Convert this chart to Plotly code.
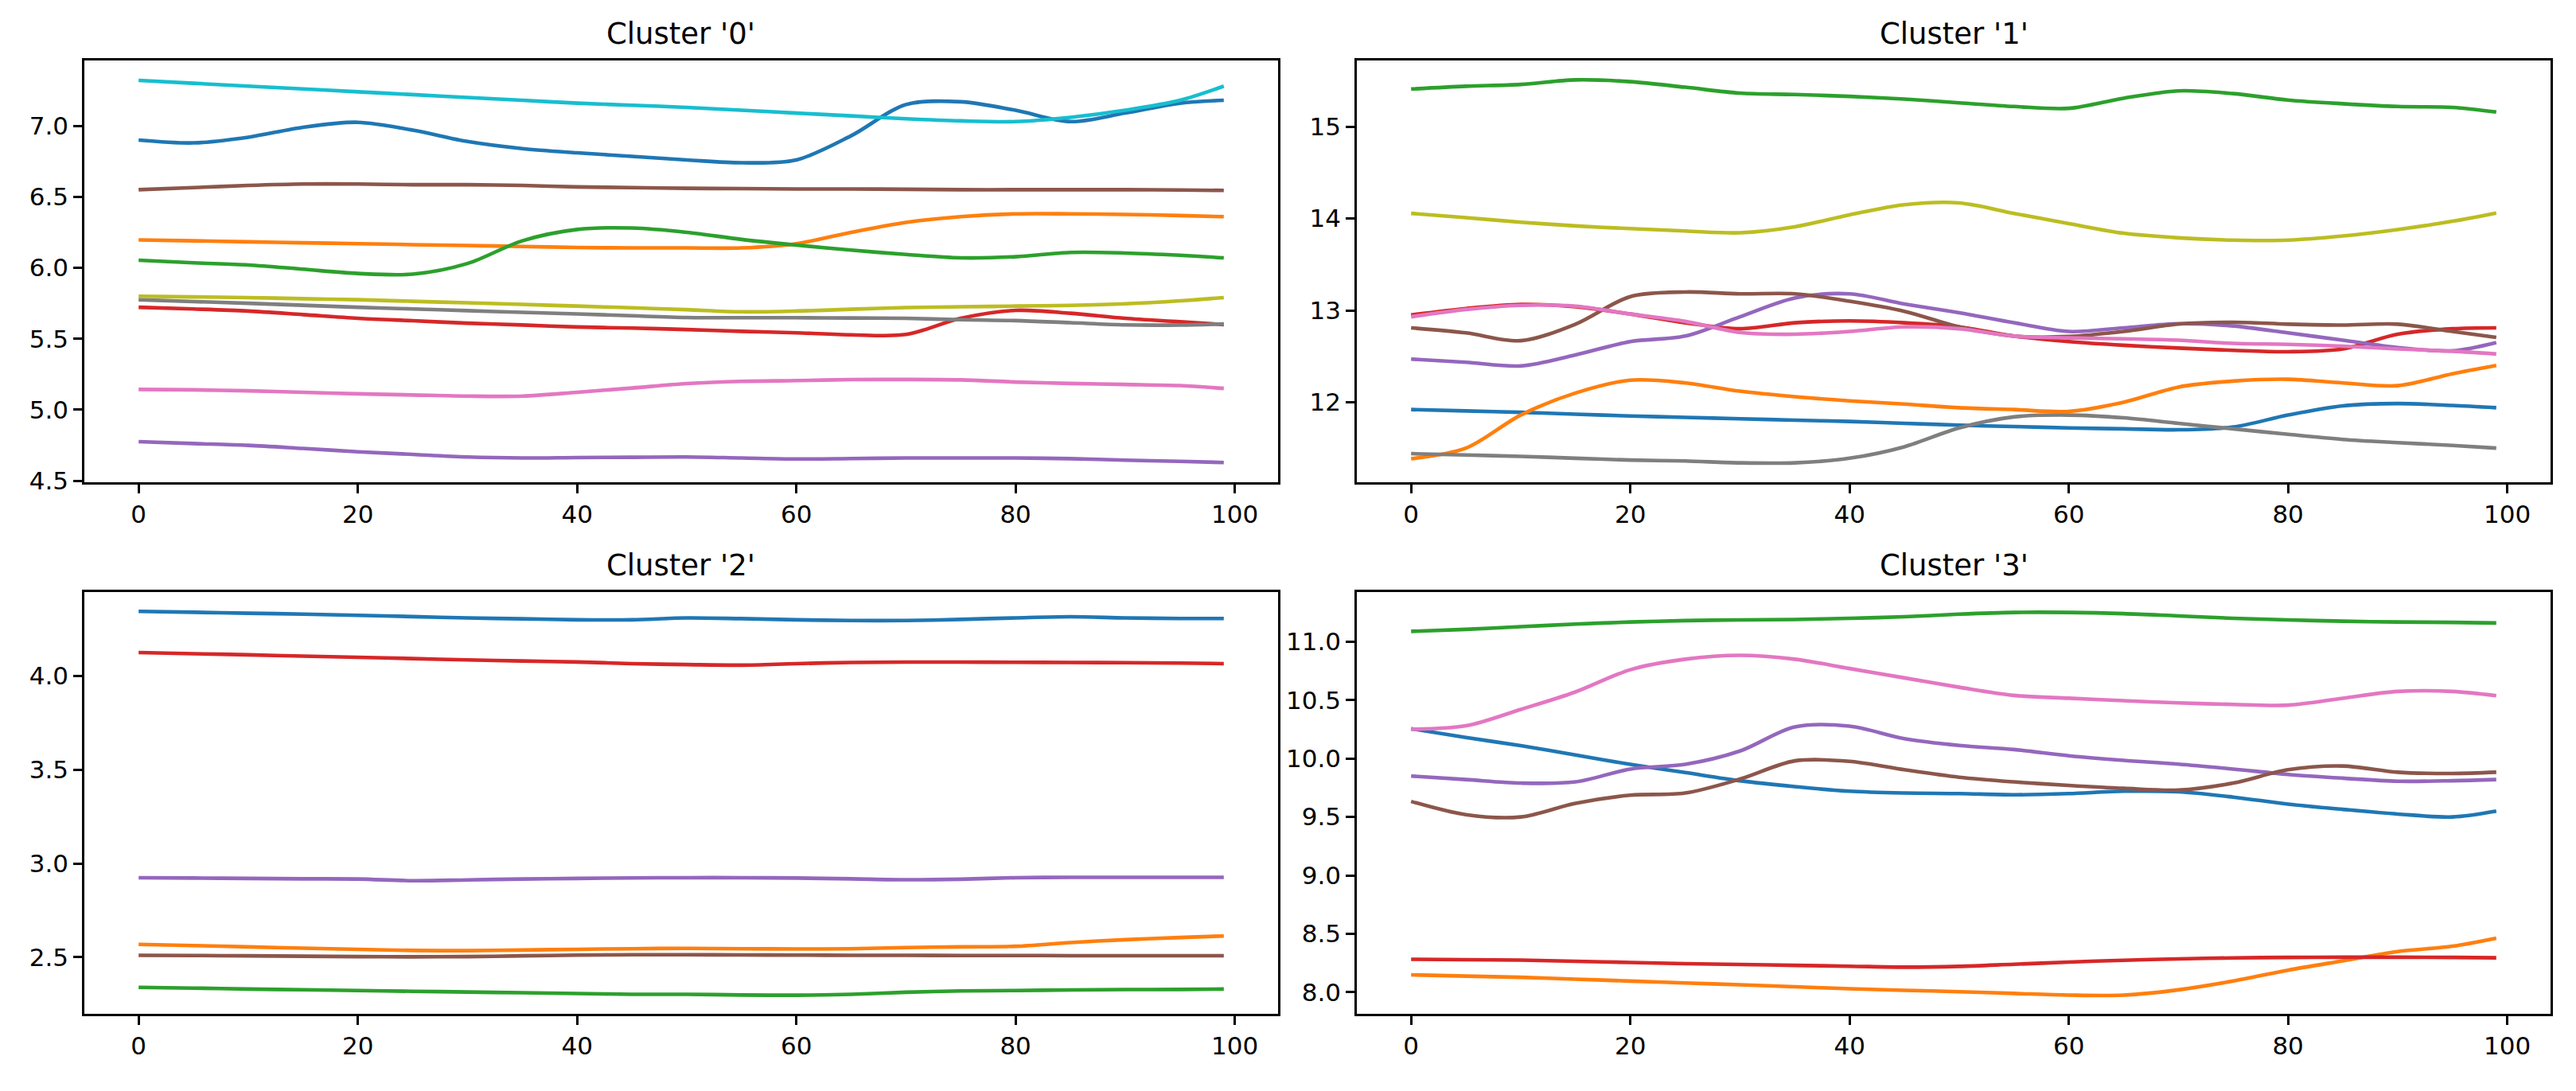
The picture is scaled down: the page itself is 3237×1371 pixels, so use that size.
import plotly.graph_objects as go

# ---------------- data ----------------
X = [0, 5, 10, 15, 20, 25, 30, 35, 40, 45, 50, 55, 60, 65, 70, 75, 80, 85, 90, 95, 99]

# Cluster '0'
c0_blue = [6.90, 6.88, 6.92, 6.99, 7.025, 6.97, 6.89, 6.84, 6.81, 6.785, 6.76, 6.74, 6.76, 6.93, 7.15, 7.17, 7.11, 7.03, 7.09, 7.16, 7.18]
c0_orange = [6.196, 6.19, 6.183, 6.176, 6.17, 6.163, 6.157, 6.15, 6.143, 6.14, 6.14, 6.14, 6.17, 6.25, 6.32, 6.36, 6.38, 6.38, 6.376, 6.368, 6.36]
c0_green = [6.053, 6.035, 6.02, 5.99, 5.96, 5.955, 6.03, 6.19, 6.27, 6.28, 6.25, 6.20, 6.16, 6.125, 6.094, 6.07, 6.078, 6.108, 6.104, 6.088, 6.07]
c0_red = [5.722, 5.71, 5.695, 5.67, 5.644, 5.627, 5.61, 5.597, 5.583, 5.575, 5.565, 5.552, 5.542, 5.528, 5.53, 5.644, 5.70, 5.68, 5.644, 5.62, 5.60]
c0_purple = [4.775, 4.762, 4.749, 4.727, 4.704, 4.685, 4.667, 4.66, 4.663, 4.665, 4.667, 4.66, 4.653, 4.656, 4.66, 4.66, 4.66, 4.655, 4.645, 4.636, 4.628]
c0_brown = [6.55, 6.565, 6.58, 6.59, 6.59, 6.585, 6.585, 6.58, 6.57, 6.565, 6.56, 6.558, 6.555, 6.555, 6.553, 6.55, 6.55, 6.55, 6.55, 6.548, 6.545]
c0_pink = [5.143, 5.14, 5.133, 5.123, 5.112, 5.104, 5.096, 5.096, 5.123, 5.153, 5.184, 5.20, 5.205, 5.212, 5.213, 5.21, 5.195, 5.185, 5.178, 5.17, 5.15]
c0_gray = [5.775, 5.762, 5.75, 5.736, 5.722, 5.71, 5.698, 5.686, 5.675, 5.662, 5.65, 5.648, 5.648, 5.646, 5.644, 5.634, 5.628, 5.613, 5.598, 5.597, 5.605]
c0_olive = [5.80, 5.795, 5.79, 5.782, 5.775, 5.764, 5.753, 5.742, 5.73, 5.718, 5.705, 5.69, 5.695, 5.708, 5.72, 5.725, 5.73, 5.735, 5.746, 5.767, 5.79]
c0_cyan = [7.32, 7.30, 7.28, 7.26, 7.24, 7.22, 7.20, 7.18, 7.16, 7.145, 7.13, 7.11, 7.09, 7.07, 7.05, 7.035, 7.03, 7.06, 7.11, 7.18, 7.28]

# Cluster '1'
c1_blue = [11.92, 11.905, 11.89, 11.87, 11.85, 11.835, 11.82, 11.805, 11.79, 11.77, 11.75, 11.735, 11.72, 11.71, 11.70, 11.73, 11.86, 11.96, 11.985, 11.965, 11.94]
c1_orange = [11.385, 11.50, 11.86, 12.10, 12.24, 12.21, 12.12, 12.06, 12.015, 11.98, 11.94, 11.92, 11.90, 12.00, 12.165, 12.23, 12.25, 12.21, 12.18, 12.31, 12.40]
c1_green = [15.41, 15.44, 15.46, 15.51, 15.49, 15.43, 15.365, 15.35, 15.33, 15.30, 15.26, 15.22, 15.20, 15.31, 15.39, 15.36, 15.29, 15.25, 15.22, 15.21, 15.16]
c1_red = [12.95, 13.02, 13.065, 13.04, 12.96, 12.865, 12.80, 12.865, 12.885, 12.865, 12.82, 12.72, 12.66, 12.62, 12.59, 12.565, 12.55, 12.58, 12.74, 12.80, 12.81]
c1_purple = [12.47, 12.435, 12.395, 12.515, 12.66, 12.72, 12.93, 13.135, 13.18, 13.07, 12.975, 12.865, 12.77, 12.81, 12.855, 12.83, 12.755, 12.675, 12.595, 12.56, 12.65]
c1_brown = [12.81, 12.755, 12.67, 12.85, 13.15, 13.20, 13.18, 13.18, 13.10, 12.99, 12.82, 12.72, 12.715, 12.77, 12.85, 12.87, 12.85, 12.84, 12.85, 12.77, 12.705]
c1_pink = [12.93, 13.01, 13.055, 13.045, 12.96, 12.88, 12.76, 12.74, 12.77, 12.82, 12.80, 12.72, 12.70, 12.69, 12.675, 12.64, 12.63, 12.61, 12.58, 12.555, 12.525]
c1_gray = [11.44, 11.425, 11.41, 11.39, 11.37, 11.36, 11.34, 11.34, 11.39, 11.515, 11.72, 11.84, 11.86, 11.83, 11.77, 11.71, 11.65, 11.595, 11.56, 11.53, 11.50]
c1_olive = [14.056, 14.01, 13.96, 13.92, 13.89, 13.865, 13.845, 13.91, 14.04, 14.15, 14.17, 14.056, 13.945, 13.84, 13.79, 13.765, 13.765, 13.81, 13.88, 13.97, 14.06]

# Cluster '2'
c2_blue = [4.345, 4.34, 4.335, 4.33, 4.324, 4.317, 4.31, 4.305, 4.30, 4.30, 4.31, 4.306, 4.30, 4.296, 4.296, 4.302, 4.31, 4.316, 4.31, 4.307, 4.307]
c2_orange = [2.568, 2.562, 2.555, 2.548, 2.542, 2.536, 2.535, 2.538, 2.542, 2.545, 2.547, 2.545, 2.544, 2.545, 2.551, 2.555, 2.558, 2.578, 2.593, 2.605, 2.613]
c2_green = [2.339, 2.335, 2.33, 2.326, 2.322, 2.318, 2.314, 2.31, 2.306, 2.302, 2.302, 2.298, 2.297, 2.302, 2.313, 2.32, 2.322, 2.325, 2.327, 2.328, 2.33]
c2_red = [4.125, 4.119, 4.113, 4.106, 4.10, 4.093, 4.086, 4.08, 4.075, 4.066, 4.061, 4.058, 4.066, 4.072, 4.074, 4.074, 4.073, 4.072, 4.071, 4.069, 4.066]
c2_purple = [2.924, 2.922, 2.92, 2.918, 2.917, 2.908, 2.912, 2.917, 2.92, 2.923, 2.924, 2.924, 2.922, 2.918, 2.913, 2.916, 2.924, 2.926, 2.926, 2.926, 2.926]
c2_brown = [2.51, 2.509, 2.507, 2.505, 2.503, 2.502, 2.503, 2.507, 2.511, 2.513, 2.513, 2.512, 2.511, 2.51, 2.51, 2.509, 2.509, 2.508, 2.508, 2.508, 2.508]

# Cluster '3'
c3_blue = [10.255, 10.18, 10.11, 10.03, 9.95, 9.88, 9.81, 9.76, 9.72, 9.705, 9.70, 9.69, 9.70, 9.72, 9.715, 9.67, 9.61, 9.565, 9.525, 9.50, 9.55]
c3_orange = [8.149, 8.138, 8.128, 8.112, 8.096, 8.08, 8.064, 8.047, 8.03, 8.017, 8.005, 7.99, 7.976, 7.976, 8.021, 8.096, 8.189, 8.269, 8.348, 8.394, 8.463]
c3_green = [11.088, 11.105, 11.128, 11.15, 11.168, 11.18, 11.186, 11.19, 11.20, 11.213, 11.235, 11.25, 11.25, 11.24, 11.22, 11.20, 11.186, 11.175, 11.168, 11.165, 11.16]
c3_red = [8.282, 8.279, 8.275, 8.265, 8.255, 8.245, 8.238, 8.23, 8.223, 8.215, 8.222, 8.24, 8.258, 8.274, 8.286, 8.294, 8.298, 8.30, 8.30, 8.298, 8.295]
c3_purple = [9.85, 9.82, 9.79, 9.80, 9.91, 9.95, 10.064, 10.27, 10.277, 10.17, 10.112, 10.077, 10.024, 9.984, 9.952, 9.91, 9.864, 9.832, 9.806, 9.81, 9.82]
c3_brown = [9.633, 9.52, 9.50, 9.617, 9.686, 9.705, 9.824, 9.98, 9.976, 9.904, 9.84, 9.80, 9.77, 9.745, 9.73, 9.79, 9.904, 9.936, 9.883, 9.872, 9.883]
c3_pink = [10.25, 10.28, 10.42, 10.57, 10.76, 10.85, 10.883, 10.85, 10.77, 10.69, 10.61, 10.54, 10.516, 10.495, 10.476, 10.463, 10.457, 10.516, 10.574, 10.574, 10.537]

titles = ["Cluster '0'", "Cluster '1'", "Cluster '2'", "Cluster '3'"]
x_ticks = [0, 20, 40, 60, 80, 100]

# ---------------- styling ----------------
TAB10 = ["#1f77b4", "#ff7f0e", "#2ca02c", "#d62728", "#9467bd",
         "#8c564b", "#e377c2", "#7f7f7f", "#bcbd22", "#17becf"]

panels = [
    [c0_blue, c0_orange, c0_green, c0_red, c0_purple, c0_brown, c0_pink, c0_gray, c0_olive, c0_cyan],
    [c1_blue, c1_orange, c1_green, c1_red, c1_purple, c1_brown, c1_pink, c1_gray, c1_olive],
    [c2_blue, c2_orange, c2_green, c2_red, c2_purple, c2_brown],
    [c3_blue, c3_orange, c3_green, c3_red, c3_purple, c3_brown, c3_pink],
]

W, H = 3237, 1371
col_px = [(106, 1606), (1705, 3205)]
row_px = [(77, 613), (753, 1289)]
y_ranges = [(4.49, 7.46), (11.13, 15.72), (2.198, 4.447), (7.816, 11.423)]
y_dticks = [0.5, 1, 0.5, 0.5]
y_formats = [".1f", "d", ".1f", ".1f"]

FONT = "DejaVu Sans"
TICK_SIZE = 31
TITLE_SIZE = 37
LW = 4.6
SPINE = 2.5

fig = go.Figure()
layout = dict(
    width=W, height=H,
    margin=dict(l=0, r=0, t=0, b=0),
    paper_bgcolor="white", plot_bgcolor="white",
    showlegend=False,
    font=dict(family=FONT, size=TICK_SIZE, color="black"),
)
annotations = []

for i, series in enumerate(panels):
    r, c = divmod(i, 2)
    ax = "" if i == 0 else str(i + 1)
    x0, x1 = col_px[c]
    y0, y1 = row_px[r]
    xdom = [x0 / W, x1 / W]
    ydom = [1 - y1 / H, 1 - y0 / H]
    for k, ys in enumerate(series):
        fig.add_trace(go.Scatter(
            x=X, y=ys, mode="lines",
            line=dict(color=TAB10[k], width=LW, shape="spline", smoothing=0.9),
            xaxis="x" + ax, yaxis="y" + ax, hoverinfo="skip",
        ))
    axis_common = dict(
        showline=True, mirror=True, linecolor="black", linewidth=SPINE,
        showgrid=False, zeroline=False,
        ticks="outside", ticklen=11, tickwidth=SPINE, tickcolor="black",
        tickfont=dict(family=FONT, size=TICK_SIZE, color="black"),
    )
    layout["xaxis" + ax] = dict(
        axis_common, domain=xdom, range=[-4.95, 103.95],
        tickmode="array", tickvals=x_ticks, ticktext=[str(t) for t in x_ticks],
        anchor="y" + ax,
    )
    layout["yaxis" + ax] = dict(
        axis_common, domain=ydom, range=list(y_ranges[i]),
        dtick=y_dticks[i], tick0=0, tickformat=y_formats[i],
        anchor="x" + ax,
    )
    annotations.append(dict(
        text=titles[i], xref="paper", yref="paper",
        x=(xdom[0] + xdom[1]) / 2, y=ydom[1],
        xanchor="center", yanchor="bottom", yshift=10, showarrow=False,
        font=dict(family=FONT, size=TITLE_SIZE, color="black"),
    ))

layout["annotations"] = annotations
fig.update_layout(**layout)

fig.write_html(
    "out.html",
    config={"displayModeBar": False},
    post_script="document.body.style.margin='0';document.body.style.overflow='hidden';",
)
